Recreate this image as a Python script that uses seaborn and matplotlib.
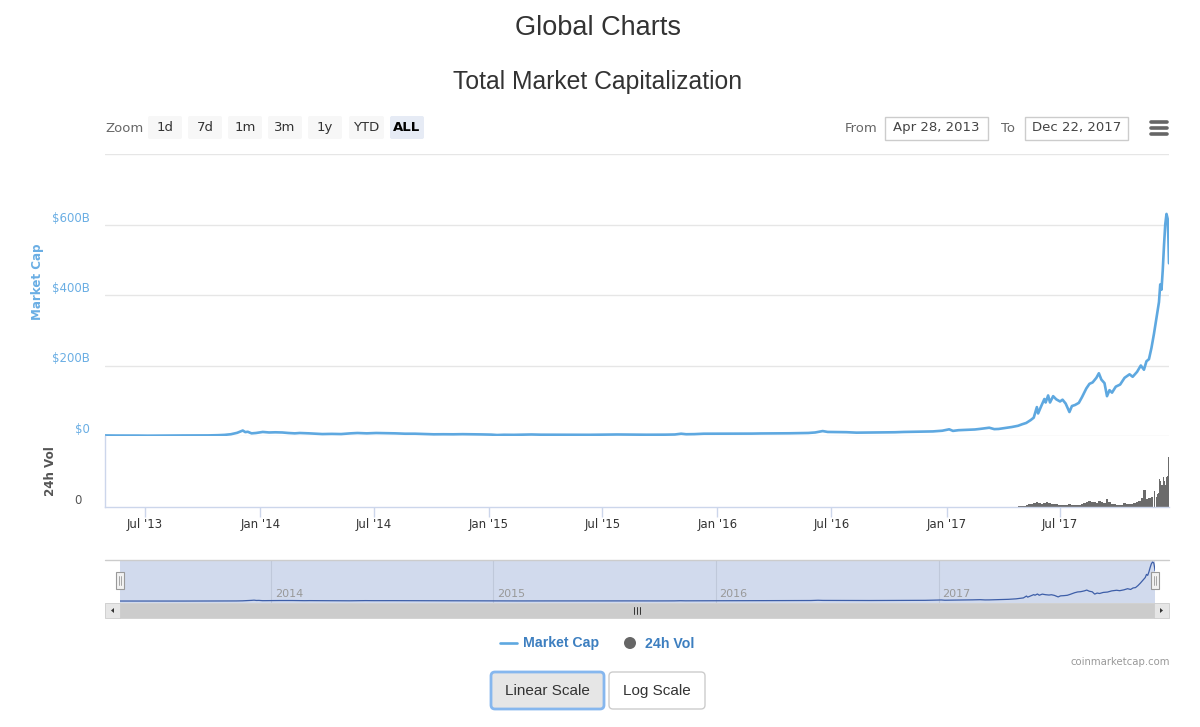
import numpy as np
import pandas as pd
import matplotlib
matplotlib.use("Agg")
import matplotlib.pyplot as plt
import matplotlib.dates as mdates
import seaborn as sns
from matplotlib.patches import Rectangle, FancyBboxPatch, Circle, Polygon

# ---------------- data ----------------
mc_dates = [
    "2013-04-28", "2013-05-15", "2013-06-01", "2013-06-20", "2013-07-05", "2013-07-20", "2013-08-10",
    "2013-08-30", "2013-09-20", "2013-10-10", "2013-10-25", "2013-11-05", "2013-11-15", "2013-11-25",
    "2013-11-30", "2013-12-04", "2013-12-08", "2013-12-12", "2013-12-18", "2013-12-25",
    "2014-01-05", "2014-01-15", "2014-01-25", "2014-02-05", "2014-02-15", "2014-02-25", "2014-03-05",
    "2014-03-20", "2014-04-10", "2014-04-25", "2014-05-10", "2014-05-25", "2014-06-05", "2014-06-20",
    "2014-07-05", "2014-07-20", "2014-08-05", "2014-08-20", "2014-09-05", "2014-09-20", "2014-10-05",
    "2014-10-20", "2014-11-05", "2014-11-20", "2014-12-05", "2014-12-20",
    "2015-01-05", "2015-01-14", "2015-01-25", "2015-02-10", "2015-02-25", "2015-03-10", "2015-03-25",
    "2015-04-10", "2015-04-25", "2015-05-10", "2015-05-25", "2015-06-10", "2015-06-25", "2015-07-10",
    "2015-07-25", "2015-08-10", "2015-08-25", "2015-09-10", "2015-09-25", "2015-10-10", "2015-10-25",
    "2015-11-04", "2015-11-12", "2015-11-25", "2015-12-10", "2015-12-25",
    "2016-01-10", "2016-01-25", "2016-02-10", "2016-02-25", "2016-03-10", "2016-03-25", "2016-04-10",
    "2016-04-25", "2016-05-10", "2016-05-25", "2016-06-05", "2016-06-17", "2016-06-25", "2016-07-10",
    "2016-07-25", "2016-08-10", "2016-08-25", "2016-09-10", "2016-09-25", "2016-10-10", "2016-10-25",
    "2016-11-10", "2016-11-25", "2016-12-10", "2016-12-25",
    "2017-01-01", "2017-01-05", "2017-01-11", "2017-01-20", "2017-02-01", "2017-02-15", "2017-02-25",
    "2017-03-05", "2017-03-10", "2017-03-18", "2017-03-25", "2017-04-05", "2017-04-15", "2017-04-25",
    "2017-05-01", "2017-05-08", "2017-05-15", "2017-05-20", "2017-05-25", "2017-05-27", "2017-06-01",
    "2017-06-06", "2017-06-08", "2017-06-12", "2017-06-15", "2017-06-20", "2017-06-25", "2017-07-01",
    "2017-07-05", "2017-07-10", "2017-07-16", "2017-07-20", "2017-07-25", "2017-07-31", "2017-08-05",
    "2017-08-12", "2017-08-17", "2017-08-22", "2017-08-28", "2017-09-01", "2017-09-05", "2017-09-10",
    "2017-09-14", "2017-09-18", "2017-09-22", "2017-09-28", "2017-10-05", "2017-10-12", "2017-10-20",
    "2017-10-25", "2017-11-01", "2017-11-07", "2017-11-12", "2017-11-16", "2017-11-20", "2017-11-24",
    "2017-11-28", "2017-12-02", "2017-12-06", "2017-12-08", "2017-12-10", "2017-12-12", "2017-12-14",
    "2017-12-16", "2017-12-18", "2017-12-20", "2017-12-21", "2017-12-22",
]
mc_values = [  # billions USD
    1.6, 1.3, 1.4, 1.2, 0.9, 1.1, 1.3,
    1.5, 1.6, 1.7, 2.3, 3.2, 5.0, 9.0,
    12.5, 15.5, 11.0, 12.0, 7.5, 8.5,
    11.5, 10.0, 10.5, 10.0, 8.5, 7.5, 8.5,
    7.5, 5.5, 6.0, 5.5, 7.5, 8.5, 7.5,
    8.5, 8.0, 7.5, 6.5, 6.5, 5.5, 4.8,
    5.0, 4.8, 5.2, 5.0, 4.5,
    3.9, 2.8, 3.5, 3.3, 3.7, 4.3, 3.7,
    3.6, 3.3, 3.5, 3.4, 3.4, 3.7, 4.2,
    4.3, 4.0, 3.5, 3.6, 3.6, 3.8, 4.3,
    6.5, 5.0, 5.3, 6.5, 6.5,
    6.8, 6.2, 6.6, 6.8, 7.2, 7.3, 7.4,
    7.7, 8.0, 8.6, 10.0, 14.0, 11.5, 11.0,
    10.8, 9.5, 9.8, 10.0, 10.3, 10.6, 11.5,
    12.0, 12.5, 13.0, 15.0,
    17.7, 19.0, 14.5, 16.5, 17.5, 18.5, 20.5,
    22.5, 23.5, 19.5, 20.0, 23.0, 25.5, 29.0,
    33.0, 37.0, 45.0, 52.0, 82.0, 64.0, 85.0,
    105.0, 95.0, 115.0, 95.0, 113.0, 104.0, 98.0,
    103.0, 92.0, 68.0, 85.0, 88.0, 94.0, 110.0,
    135.0, 148.0, 152.0, 165.0, 178.0, 160.0, 150.0,
    113.0, 130.0, 123.0, 140.0, 146.0, 165.0, 175.0,
    168.0, 182.0, 200.0, 188.0, 212.0, 218.0, 250.0,
    290.0, 335.0, 380.0, 430.0, 415.0, 470.0, 540.0,
    600.0, 630.0, 615.0, 560.0, 490.0,
]

vol_dates = [
    "2017-04-27", "2017-05-01", "2017-05-05", "2017-05-09", "2017-05-13", "2017-05-17", "2017-05-21",
    "2017-05-25", "2017-05-29", "2017-06-02", "2017-06-06", "2017-06-10", "2017-06-14", "2017-06-18",
    "2017-06-22", "2017-06-26", "2017-06-30", "2017-07-04", "2017-07-08", "2017-07-12", "2017-07-16",
    "2017-07-20", "2017-07-24", "2017-07-28", "2017-08-01", "2017-08-05", "2017-08-09", "2017-08-13",
    "2017-08-17", "2017-08-21", "2017-08-25", "2017-08-29", "2017-09-02", "2017-09-06", "2017-09-10",
    "2017-09-14", "2017-09-18", "2017-09-22", "2017-09-26", "2017-09-30", "2017-10-04", "2017-10-08",
    "2017-10-12", "2017-10-16", "2017-10-20", "2017-10-24", "2017-10-28", "2017-11-01", "2017-11-05",
    "2017-11-09", "2017-11-13", "2017-11-17", "2017-11-21", "2017-11-25", "2017-11-29",
    "2017-12-01", "2017-12-02", "2017-12-03", "2017-12-04", "2017-12-05", "2017-12-06", "2017-12-07",
    "2017-12-08", "2017-12-09", "2017-12-10", "2017-12-11", "2017-12-12", "2017-12-13", "2017-12-14",
    "2017-12-15", "2017-12-16", "2017-12-17", "2017-12-18", "2017-12-19", "2017-12-20", "2017-12-21",
    "2017-12-22",
]
vol_values = [  # billions USD
    0.8, 1.0, 1.2, 2.5, 3.0, 3.5, 4.5,
    5.0, 4.0, 3.5, 4.5, 5.0, 4.0, 3.5,
    3.5, 3.0, 2.5, 2.5, 2.0, 2.5, 3.5,
    2.5, 2.0, 2.0, 2.5, 3.5, 4.0, 5.5,
    6.5, 5.0, 5.5, 4.5, 6.0, 5.0, 4.5,
    8.0, 5.0, 3.5, 3.0, 2.5, 2.5, 2.0,
    4.0, 3.5, 3.0, 3.5, 4.0, 5.0, 6.0,
    9.0, 17.0, 8.0, 9.0, 10.0, 16.0,
    12.0, 10.0, 11.0, 13.0, 14.0, 18.0, 28.0,
    26.0, 20.0, 22.0, 18.0, 22.0, 30.0, 28.0,
    26.0, 22.0, 27.0, 30.0, 32.0, 31.0, 50.0,
    38.0,
]

x_tick_dates = ["2013-07-01", "2014-01-01", "2014-07-01", "2015-01-01", "2015-07-01",
                "2016-01-01", "2016-07-01", "2017-01-01", "2017-07-01"]
x_tick_labels = ["Jul '13", "Jan '14", "Jul '14", "Jan '15", "Jul '15",
                 "Jan '16", "Jul '16", "Jan '17", "Jul '17"]
y_ticks = [0, 200, 400, 600, 800]
y_tick_labels = ["$0", "$200B", "$400B", "$600B", ""]
nav_years = ["2014", "2015", "2016", "2017"]
zoom_buttons = ["1d", "7d", "1m", "3m", "1y", "YTD", "ALL"]
date_from, date_to = "Apr 28, 2013", "Dec 22, 2017"
range_start, range_end = "2013-04-28", "2017-12-22"

# ---------------- styling ----------------
sns.set_theme(style="white")
plt.rcParams["font.family"] = ["DejaVu Sans"]

LINE = "#5ea8e0"
LABEL_BLUE = "#6aaee4"
LEG_BLUE = "#3d7fc0"
W, H = 1200, 727

fig = plt.figure(figsize=(12, 7.27), dpi=100)
fig.patch.set_facecolor("white")

ov = fig.add_axes([0, 0, 1, 1])
ov.set_xlim(0, W)
ov.set_ylim(H, 0)
ov.axis("off")


def add_ax(x0, y0, x1, y1):
    return fig.add_axes([x0 / W, 1 - y1 / H, (x1 - x0) / W, (y1 - y0) / H])


mc_df = pd.DataFrame({"date": pd.to_datetime(mc_dates), "cap": mc_values})
vol_df = pd.DataFrame({"date": pd.to_datetime(vol_dates), "vol": vol_values})
x0n = mdates.date2num(pd.Timestamp(range_start))
x1n = mdates.date2num(pd.Timestamp(range_end))
tick_nums = mdates.date2num(pd.to_datetime(x_tick_dates))

# ---------------- titles ----------------
ov.text(598, 28, "Global Charts", ha="center", va="center", fontsize=19.5,
        family="Liberation Sans", color="#333333")
ov.text(598, 82, "Total Market Capitalization", ha="center", va="center", fontsize=17.8,
        family="Liberation Sans", color="#333333")

# ---------------- range selector ----------------
ov.text(105, 128, "Zoom", ha="left", va="center", fontsize=9.5, color="#666666")
btn_x = [(148, 182), (188, 222), (228, 262), (268, 302), (308, 342), (349, 384), (390, 424)]
for (bx0, bx1), lab in zip(btn_x, zoom_buttons):
    sel = lab == "ALL"
    ov.add_patch(FancyBboxPatch((bx0, 116), bx1 - bx0, 23,
                                boxstyle="round,pad=0,rounding_size=2",
                                fc="#e6ebf5" if sel else "#f7f7f7", ec="none"))
    ov.text((bx0 + bx1) / 2, 127.5, lab, ha="center", va="center", fontsize=9.5,
            color="#000000" if sel else "#333333", fontweight="bold" if sel else "normal")

ov.text(845, 128, "From", ha="left", va="center", fontsize=9.5, color="#666666")
ov.add_patch(Rectangle((885, 117), 103, 23, fc="white", ec="#cccccc", lw=1))
ov.text(936.5, 128, date_from, ha="center", va="center", fontsize=9.5, color="#444444")
ov.text(1001, 128, "To", ha="left", va="center", fontsize=9.5, color="#666666")
ov.add_patch(Rectangle((1025, 117), 103, 23, fc="white", ec="#cccccc", lw=1))
ov.text(1076.5, 128, date_to, ha="center", va="center", fontsize=9.5, color="#444444")
for yy in (122, 128, 134):
    ov.plot([1151, 1167], [yy, yy], color="#666666", lw=2.6, solid_capstyle="round")

# ---------------- main market cap pane ----------------
ax = add_ax(105, 154, 1169, 436)
ax.set_facecolor("none")
sns.lineplot(data=mc_df, x="date", y="cap", ax=ax, color=LINE, lw=1.9, legend=False)
ax.set_xlim(x0n, x1n)
ax.set_ylim(0, 800)
ax.set_yticks(y_ticks)
ax.set_yticklabels(y_tick_labels)
for t in ax.get_yticklabels():
    t.set_va("bottom")
ax.tick_params(axis="y", length=0, pad=11, labelsize=8.5, labelcolor=LABEL_BLUE)
ax.set_xticks([])
ax.set_xlabel("")
ax.set_ylabel("")
ax.grid(axis="y", color="#e6e6e6", lw=1)
ax.grid(axis="x", visible=False)
for s in ax.spines.values():
    s.set_visible(False)
ov.text(37, 282, "Market Cap", rotation=90, ha="center", va="center", fontsize=8.6,
        fontweight="bold", color=LABEL_BLUE)

# ---------------- volume pane ----------------
av = add_ax(105, 436, 1169, 507)
av.set_facecolor("none")
vnum = mdates.date2num(vol_df["date"])
widths = np.append(np.diff(vnum), 1.0)
av.bar(vnum, vol_df["vol"], width=widths, align="center", color="#6b6b6b", edgecolor="none")
av.set_xlim(x0n, x1n)
av.set_ylim(0, 71)
av.set_yticks([0])
av.set_yticklabels(["0"])
for t in av.get_yticklabels():
    t.set_va("bottom")
av.tick_params(axis="y", length=0, pad=17, labelsize=8.5, labelcolor="#555555")
av.set_xticks(tick_nums)
av.set_xticklabels(x_tick_labels)
av.tick_params(axis="x", length=7, width=1, color="#ccd6eb", direction="out", pad=1,
               labelsize=8.5, labelcolor="#333333", bottom=True)
av.grid(False)
for k in ("top", "right"):
    av.spines[k].set_visible(False)
av.spines["left"].set_color("#ccd6eb")
av.spines["bottom"].set_color("#ccd6eb")
av.spines["left"].set_linewidth(1)
av.spines["bottom"].set_linewidth(1)
ov.text(50, 471, "24h Vol", rotation=90, ha="center", va="center", fontsize=8.6,
        fontweight="bold", color="#555555")

# ---------------- navigator ----------------
an = add_ax(120, 560, 1155, 603)
an.set_facecolor("#d1daed")
sns.lineplot(data=mc_df, x="date", y="cap", ax=an, color="#3d5ea8", lw=0.9, legend=False)
an.set_xlim(x0n, x1n)
an.set_ylim(-30, 662)
for yr in nav_years:
    xn = mdates.date2num(pd.Timestamp(f"{yr}-01-01"))
    an.axvline(xn, color="#bfc8da", lw=0.8, zorder=0)
    an.text(xn + 6, 0.22, yr, transform=an.get_xaxis_transform(), ha="left", va="center",
            fontsize=8, color="#999999")
an.set_xticks([])
an.set_yticks([])
an.set_xlabel("")
an.set_ylabel("")
for s in an.spines.values():
    s.set_visible(False)

# top overlay for navigator outline, handles and scrollbar
ot = fig.add_axes([0, 0, 1, 1])
ot.set_xlim(0, W)
ot.set_ylim(H, 0)
ot.axis("off")
ot.plot([105, 1169], [560, 560], color="#cccccc", lw=1)
for hx in (120, 1155):
    ot.add_patch(Rectangle((hx - 4, 572), 8, 17, fc="#f2f2f2", ec="#999999", lw=0.8, zorder=5))
    for dx in (-1.2, 1.2):
        ot.plot([hx + dx, hx + dx], [576, 585], color="#999999", lw=0.6, zorder=6)

# scrollbar
ot.add_patch(Rectangle((105, 603), 1064, 15, fc="#f2f2f2", ec="none"))
ot.add_patch(Rectangle((120, 603), 1034, 15, fc="#cccccc", ec="#cccccc", lw=0.5))
ot.add_patch(Rectangle((105, 603), 15, 15, fc="#e6e6e6", ec="#cccccc", lw=0.6))
ot.add_patch(Rectangle((1154, 603), 15, 15, fc="#e6e6e6", ec="#cccccc", lw=0.6))
ot.add_patch(Polygon([[111, 610.5], [114, 608], [114, 613]], closed=True, fc="#333333", ec="none"))
ot.add_patch(Polygon([[1163, 610.5], [1160, 608], [1160, 613]], closed=True, fc="#333333", ec="none"))
for gx in (634, 637, 640):
    ot.plot([gx, gx], [607, 614], color="#333333", lw=0.7)

# ---------------- legend ----------------
ov.plot([500, 517], [643, 643], color=LINE, lw=1.9)
ov.text(523, 643.5, "Market Cap", ha="left", va="center", fontsize=10.2, fontweight="bold",
        family="Liberation Sans", color=LEG_BLUE)
ov.add_patch(Circle((630, 643), 6, fc="#666666", ec="none"))
ov.text(645, 643.5, "24h Vol", ha="left", va="center", fontsize=10.2, fontweight="bold",
        family="Liberation Sans", color=LEG_BLUE)
ov.text(1170, 662, "coinmarketcap.com", ha="right", va="center", fontsize=7.3, color="#999999")

# ---------------- scale buttons ----------------
ov.add_patch(FancyBboxPatch((491, 672), 113, 37, boxstyle="round,pad=0,rounding_size=4",
                            fc="#e6e6e6", ec="#86b7ee", lw=2))
ov.text(547.5, 691, "Linear Scale", ha="center", va="center", fontsize=11,
        family="Liberation Sans", color="#333333")
ov.add_patch(FancyBboxPatch((609, 672), 96, 37, boxstyle="round,pad=0,rounding_size=4",
                            fc="white", ec="#cccccc", lw=1))
ov.text(657, 691, "Log Scale", ha="center", va="center", fontsize=11,
        family="Liberation Sans", color="#333333")

fig.savefig("out.png", dpi=100, facecolor="white")
